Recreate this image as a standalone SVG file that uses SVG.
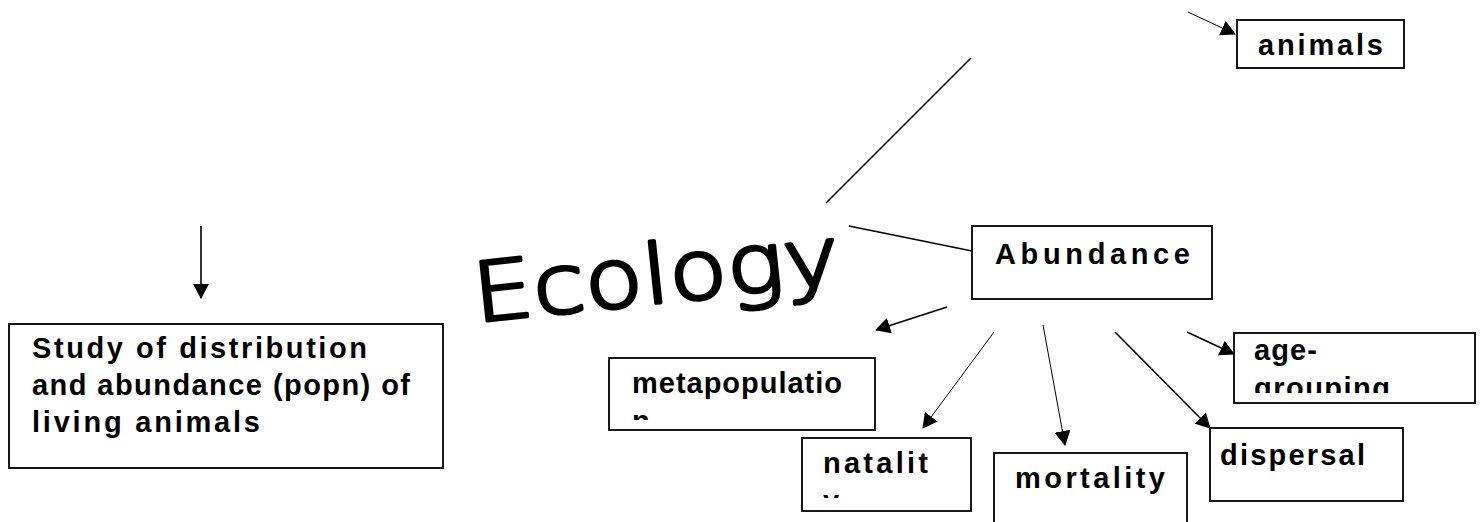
<svg xmlns="http://www.w3.org/2000/svg" width="1484" height="522" viewBox="0 0 1484 522">
<style>
.box{fill:#fff;stroke:#000;stroke-width:1.8}
.t{font-family:"Liberation Sans",Arial,sans-serif;font-weight:bold;font-size:29px;fill:#000}
.ln{stroke:#000;stroke-width:1.6;fill:none}
.thin{stroke:#000;stroke-width:1;fill:none}
.eco{font-family:"DejaVu Sans",sans-serif;font-weight:200;font-size:82px;fill:#000;stroke:#000;stroke-width:3.5;stroke-linejoin:round}
</style>
<defs>
<marker id="ah" viewBox="0 0 15 16" markerWidth="15" markerHeight="16" refX="14" refY="8" orient="auto" markerUnits="userSpaceOnUse">
<path d="M0,0 L15,8 L0,16 z" fill="#000"/>
</marker>
<clipPath id="cMeta"><rect x="609" y="358" width="266" height="62"/></clipPath>
<clipPath id="cNat"><rect x="802" y="438" width="169" height="60"/></clipPath>
<clipPath id="cAge"><rect x="1234" y="333" width="241" height="60"/></clipPath>
</defs>

<g id="connectors">
<line class="ln" x1="201" y1="226" x2="201" y2="298" marker-end="url(#ah)"/>
<line class="ln" x1="826" y1="203" x2="971" y2="58"/>
<line class="ln" x1="849" y1="226" x2="972" y2="251"/>
<line class="thin" x1="1188" y1="12" x2="1235" y2="34" marker-end="url(#ah)"/>
<line class="ln" x1="947" y1="307" x2="876" y2="330" marker-end="url(#ah)"/>
<line class="thin" x1="994" y1="332" x2="923" y2="428" marker-end="url(#ah)"/>
<line class="thin" x1="1043" y1="325" x2="1065" y2="445" marker-end="url(#ah)"/>
<line class="ln" x1="1115" y1="332" x2="1210" y2="428" marker-end="url(#ah)"/>
<line class="ln" x1="1187" y1="332" x2="1234" y2="354" marker-end="url(#ah)"/>
</g>

<g id="ecology">
<text class="eco" x="476" y="322" transform="rotate(-6 476 322)" textLength="368" lengthAdjust="spacingAndGlyphs">Ecology</text>
</g>

<g id="animals">
<rect class="box" x="1237" y="20" width="167" height="48"/>
<text class="t" x="1258" y="55" textLength="125" lengthAdjust="spacing">animals</text>
</g>

<g id="abundance">
<rect class="box" x="972" y="226" width="240" height="73"/>
<text class="t" x="995" y="264" font-size="30" textLength="195" lengthAdjust="spacing">Abundance</text>
</g>

<g id="study">
<rect class="box" x="9" y="324" width="434" height="144"/>
<text class="t" x="32" y="358" textLength="335" lengthAdjust="spacing">Study of distribution</text>
<text class="t" x="32" y="395" textLength="378" lengthAdjust="spacing">and abundance (popn) of</text>
<text class="t" x="32" y="432" textLength="228" lengthAdjust="spacing">living animals</text>
</g>

<g id="metapopulation">
<rect class="box" x="609" y="358" width="266" height="72"/>
<g clip-path="url(#cMeta)">
<text class="t" x="632" y="393" textLength="210" lengthAdjust="spacing">metapopulatio</text>
<text class="t" x="632" y="431">n</text>
</g>
</g>

<g id="natality">
<rect class="box" x="802" y="438" width="169" height="73"/>
<g clip-path="url(#cNat)">
<text class="t" x="823" y="473" textLength="105" lengthAdjust="spacing">natalit</text>
<text class="t" x="823" y="511">y</text>
</g>
</g>

<g id="mortality">
<rect class="box" x="994" y="453" width="193" height="80"/>
<text class="t" x="1015" y="488" textLength="150" lengthAdjust="spacing">mortality</text>
</g>

<g id="dispersal">
<rect class="box" x="1210" y="428" width="193" height="73"/>
<text class="t" x="1220" y="465" textLength="145" lengthAdjust="spacing">dispersal</text>
</g>

<g id="age-grouping">
<rect class="box" x="1234" y="333" width="241" height="70"/>
<g clip-path="url(#cAge)">
<text class="t" x="1254" y="360" textLength="63" lengthAdjust="spacing">age-</text>
<text class="t" x="1254" y="398" textLength="136" lengthAdjust="spacing">grouping</text>
</g>
</g>
</svg>
